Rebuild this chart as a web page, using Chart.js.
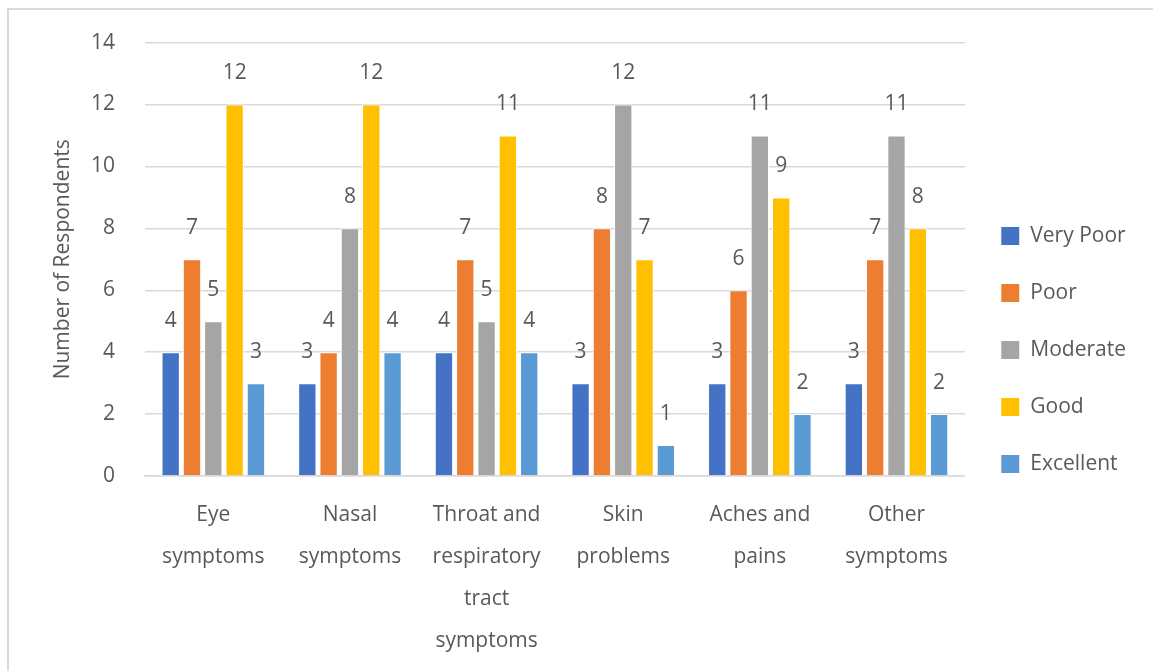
<!DOCTYPE html>
<html>
<head>
<meta charset="utf-8">
<script src="https://cdn.jsdelivr.net/npm/chart.js@4.4.0/dist/chart.umd.min.js"></script>
<style>
  html, body { margin: 0; padding: 0; background: #fff; overflow: hidden; }
  #frame {
    position: absolute; left: 7px; top: 8px;
    width: 1200px; height: 700px;
    border: 2px solid #d9d9d9;
  }
  #wrap { position: absolute; left: 0; top: 0; width: 1153px; height: 671px; }
</style>
</head>
<body>
<div id="frame"></div>
<div id="wrap"><canvas id="symptomChart" width="1153" height="671"></canvas></div>
<script>
const categories = [
    ['Eye', 'symptoms'],
    ['Nasal', 'symptoms'],
    ['Throat and', 'respiratory', 'tract', 'symptoms'],
    ['Skin', 'problems'],
    ['Aches and', 'pains'],
    ['Other', 'symptoms']
];
const veryPoor = [4, 3, 4, 3, 3, 3];
const poor = [7, 4, 7, 8, 6, 7];
const moderate = [5, 8, 5, 12, 11, 11];
const good = [12, 12, 11, 7, 9, 8];
const excellent = [3, 4, 4, 1, 2, 2];

const textColor = '#595959';
const fontFamily = '"Open Sans", "DejaVu Sans", sans-serif';
const fontSize = 21;

// numbers above each bar
const valueLabels = {
    id: 'valueLabels',
    afterDatasetsDraw(chart) {
        const ctx = chart.ctx;
        ctx.save();
        ctx.font = fontSize + 'px ' + fontFamily;
        ctx.fillStyle = textColor;
        ctx.textAlign = 'center';
        ctx.textBaseline = 'middle';
        chart.data.datasets.forEach((ds, i) => {
            chart.getDatasetMeta(i).data.forEach((bar, j) => {
                ctx.fillText(ds.data[j], bar.x, bar.y - 31);
            });
        });
        ctx.restore();
    }
};

function makeSet(label, data, color) {
    return {
        label: label,
        data: data,
        backgroundColor: color,
        borderColor: '#ffffff',
        borderWidth: 1,
        borderSkipped: 'bottom'
    };
}

chartIt();
function chartIt() {
    const ctx = document.getElementById('symptomChart').getContext('2d');

    const myChart = new Chart(ctx, {
        type: 'bar',
        data: {
            labels: categories,
            datasets: [
                makeSet('Very Poor', veryPoor, '#4472C4'),
                makeSet('Poor', poor, '#ED7D31'),
                makeSet('Moderate', moderate, '#A5A5A5'),
                makeSet('Good', good, '#FFC000'),
                makeSet('Excellent', excellent, '#5B9BD5')
            ]
        },
        options: {
            responsive: false,
            animation: false,
            layout: { padding: { left: 50, top: 29, right: 17, bottom: 0 } },
            categoryPercentage: 0.78,
            barPercentage: 0.86,
            plugins: {
                tooltip: { enabled: false },
                legend: {
                    position: 'right',
                    labels: {
                        boxWidth: 19,
                        boxHeight: 19,
                        padding: 36,
                        color: textColor,
                        font: { size: fontSize, family: fontFamily }
                    }
                }
            },
            scales: {
                x: {
                    grid: { display: false, drawTicks: false },
                    border: { color: '#d9d9d9', width: 1.5 },
                    afterFit: scale => { scale.height = 195; },
                    ticks: {
                        color: textColor,
                        maxRotation: 0,
                        autoSkip: false,
                        padding: 18,
                        font: { size: fontSize, family: fontFamily, lineHeight: 2.0 }
                    }
                },
                y: {
                    min: 0,
                    max: 14,
                    grid: { color: '#d9d9d9', lineWidth: 1.5, drawTicks: false },
                    border: { display: false },
                    afterFit: scale => { scale.width = 95; },
                    ticks: {
                        stepSize: 2,
                        color: textColor,
                        padding: 30,
                        font: { size: fontSize, family: fontFamily }
                    },
                    title: {
                        display: true,
                        text: 'Number of Respondents',
                        color: textColor,
                        padding: 0,
                        font: { size: fontSize, family: fontFamily }
                    }
                }
            }
        },
        plugins: [valueLabels]
    });
}
</script>
</body>
</html>
